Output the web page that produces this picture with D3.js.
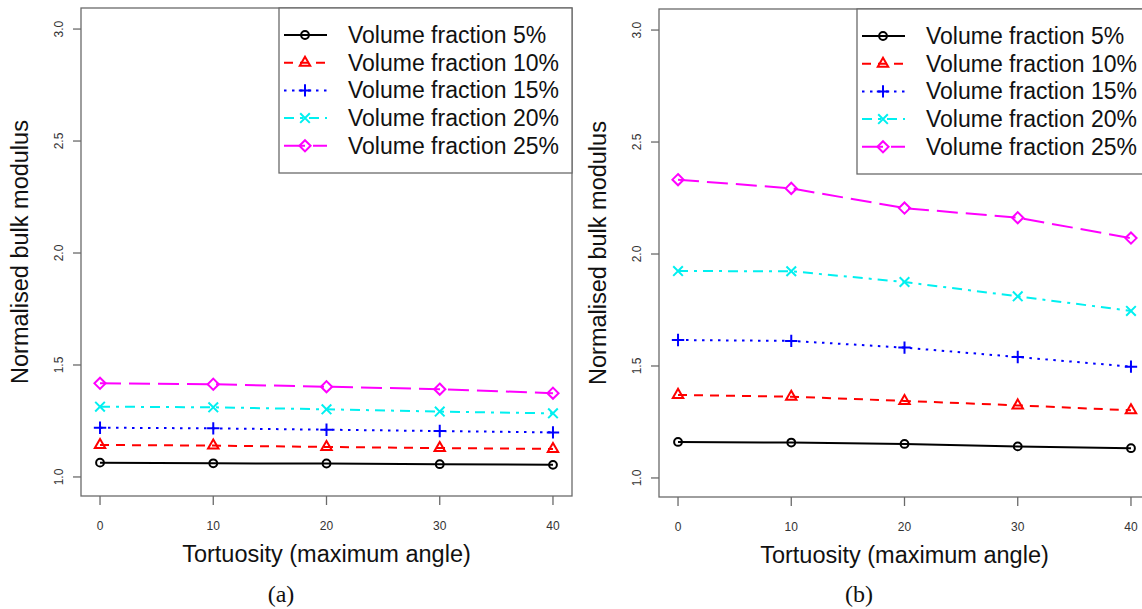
<!DOCTYPE html>
<html>
<head>
<meta charset="utf-8">
<script src="https://cdn.jsdelivr.net/npm/d3@7"></script>
<style>
  body { margin: 0; background: #fff; }
  svg { display: block; font-family: "Liberation Sans", Arial, sans-serif; }
</style>
</head>
<body>
<div id="chart"></div>
<script>
// tortuosity values on the x axis
var tortuosity = [0, 10, 20, 30, 40];
var fractionLabels = ["Volume fraction 5%", "Volume fraction 10%", "Volume fraction 15%",
                      "Volume fraction 20%", "Volume fraction 25%"];
var yTicks = [1.0, 1.5, 2.0, 2.5, 3.0];

// panel (a)
var a_vf5  = [1.064, 1.061, 1.060, 1.057, 1.054];
var a_vf10 = [1.143, 1.140, 1.134, 1.129, 1.125];
var a_vf15 = [1.220, 1.217, 1.211, 1.205, 1.199];
var a_vf20 = [1.314, 1.311, 1.302, 1.292, 1.284];
var a_vf25 = [1.418, 1.414, 1.403, 1.392, 1.374];

// panel (b)
var b_vf5  = [1.161, 1.158, 1.152, 1.141, 1.133];
var b_vf10 = [1.371, 1.363, 1.344, 1.324, 1.302];
var b_vf15 = [1.616, 1.612, 1.582, 1.540, 1.497];
var b_vf20 = [1.924, 1.923, 1.875, 1.811, 1.746];
var b_vf25 = [2.332, 2.293, 2.205, 2.162, 2.071];

var colors = ["#000000", "#ff0000", "#0000ff", "#00f0f0", "#ff00ff"];
var dashes = [null, "9,7", "2.5,5.5", "10,6,3,6", "21,8"];
// R pch 1..5 : circle, triangle, plus, x, diamond
var symbols = [
  {type: d3.symbolCircle, size: 48},
  {type: d3.symbolTriangle2 || d3.symbolTriangle, size: 78},
  {type: d3.symbolPlus || d3.symbolCross, size: 52},
  {type: d3.symbolTimes || d3.symbolCross, size: 62},
  {type: d3.symbolDiamond2 || d3.symbolDiamond, size: 80}
];

var W = 1142, H = 609;
var svg = d3.select("#chart").append("svg")
  .attr("width", W).attr("height", H);

// plot region of one panel
var box = {left: 81, right: 572, top: 8, bottom: 496};
var x = d3.scaleLinear().domain([-1.68, 41.68]).range([box.left, box.right]);
var y = d3.scaleLinear().domain([0.915, 3.094]).range([box.bottom, box.top]);

function drawPanel(dx, dy, seriesList, caption) {
  var g = svg.append("g").attr("transform", "translate(" + dx + "," + dy + ")");

  // lines + points
  seriesList.forEach(function(vals, i) {
    var pts = tortuosity.map(function(t, j) { return [t, vals[j]]; });
    g.append("path")
      .attr("d", d3.line().x(d => x(d[0])).y(d => y(d[1]))(pts))
      .attr("fill", "none")
      .attr("stroke", colors[i])
      .attr("stroke-width", 2)
      .attr("stroke-dasharray", dashes[i]);
    g.selectAll(".pt" + i)
      .data(pts)
      .enter().append("path")
      .attr("class", "pt" + i)
      .attr("transform", d => "translate(" + x(d[0]) + "," + y(d[1]) + ")")
      .attr("d", d3.symbol().type(symbols[i].type).size(symbols[i].size))
      .attr("fill", "none")
      .attr("stroke", colors[i])
      .attr("stroke-width", 2);
  });

  // frame
  g.append("rect")
    .attr("x", box.left).attr("y", box.top)
    .attr("width", box.right - box.left).attr("height", box.bottom - box.top)
    .attr("fill", "none").attr("stroke", "#6a6a6a").attr("stroke-width", 1.3);

  // x axis ticks
  tortuosity.forEach(function(t) {
    g.append("line")
      .attr("x1", x(t)).attr("x2", x(t))
      .attr("y1", box.bottom).attr("y2", box.bottom + 9)
      .attr("stroke", "#6a6a6a").attr("stroke-width", 1.3);
    g.append("text")
      .attr("x", x(t)).attr("y", box.bottom + 34)
      .attr("text-anchor", "middle")
      .style("font-size", "12px").attr("fill", "#333")
      .text(t);
  });

  // y axis ticks (rotated labels)
  yTicks.forEach(function(v) {
    g.append("line")
      .attr("x1", box.left - 8).attr("x2", box.left)
      .attr("y1", y(v)).attr("y2", y(v))
      .attr("stroke", "#6a6a6a").attr("stroke-width", 1.3);
    g.append("text")
      .attr("transform", "translate(" + (box.left - 18) + "," + y(v) + ") rotate(-90)")
      .attr("text-anchor", "middle")
      .style("font-size", "12px").attr("fill", "#333")
      .text(v.toFixed(1));
  });

  // axis titles
  g.append("text")
    .attr("x", (box.left + box.right) / 2).attr("y", box.bottom + 66)
    .attr("text-anchor", "middle")
    .style("font-size", "23.5px").attr("fill", "#111")
    .text("Tortuosity (maximum angle)");
  g.append("text")
    .attr("transform", "translate(28," + (box.top + box.bottom) / 2 + ") rotate(-90)")
    .attr("text-anchor", "middle")
    .style("font-size", "23.5px").attr("fill", "#111")
    .text("Normalised bulk modulus");

  // caption (a)/(b)
  g.append("text")
    .attr("x", 281).attr("y", 602 - dy)
    .attr("text-anchor", "middle")
    .style("font-family", "'Liberation Serif', 'DejaVu Serif', serif")
    .style("font-size", "24px").attr("fill", "#111")
    .text(caption);

  // legend
  var lg = g.append("g").attr("transform", "translate(279," + box.top + ")");
  lg.append("rect")
    .attr("x", 0).attr("y", 0)
    .attr("width", box.right - 279).attr("height", 165)
    .attr("fill", "#fff").attr("stroke", "#6a6a6a").attr("stroke-width", 1.3);
  fractionLabels.forEach(function(lab, i) {
    var ry = 27 + i * 27.7;
    lg.append("line")
      .attr("x1", 5).attr("x2", 48).attr("y1", ry).attr("y2", ry)
      .attr("stroke", colors[i]).attr("stroke-width", 2)
      .attr("stroke-dasharray", dashes[i]);
    lg.append("path")
      .attr("transform", "translate(26," + ry + ")")
      .attr("d", d3.symbol().type(symbols[i].type).size(symbols[i].size))
      .attr("fill", "none").attr("stroke", colors[i]).attr("stroke-width", 2);
    lg.append("text")
      .attr("x", 69).attr("y", ry + 8)
      .style("font-size", "23px").attr("fill", "#111")
      .text(lab);
  });
}

drawPanel(0, 0, [a_vf5, a_vf10, a_vf15, a_vf20, a_vf25], "(a)");
drawPanel(578, 1, [b_vf5, b_vf10, b_vf15, b_vf20, b_vf25], "(b)");
</script>
</body>
</html>
